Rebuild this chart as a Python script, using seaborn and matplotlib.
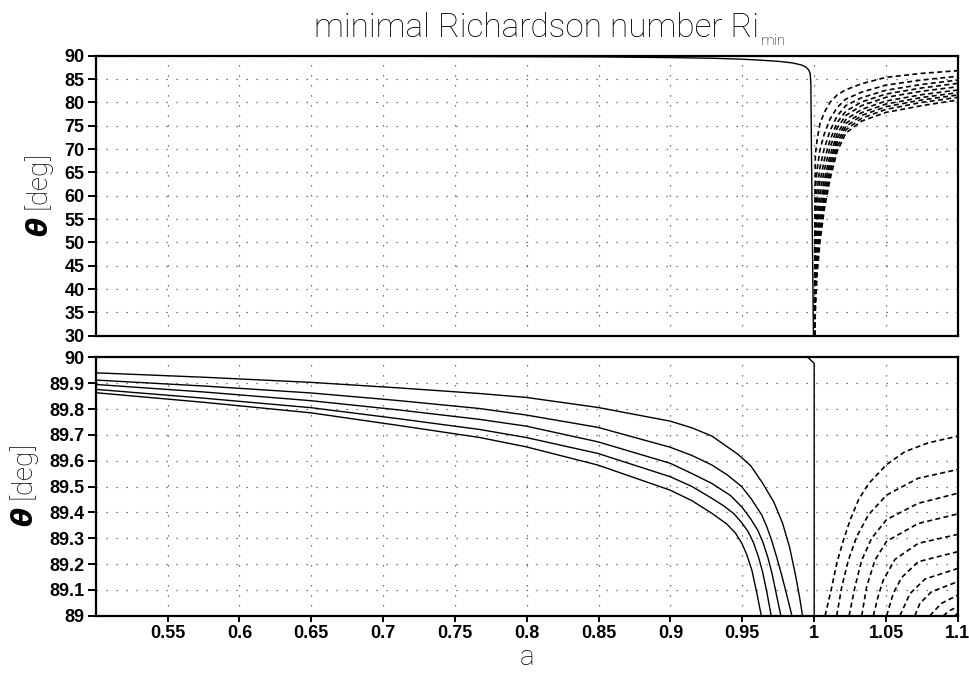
import matplotlib
matplotlib.use("Agg")
import matplotlib.pyplot as plt
import pandas as pd
import seaborn as sns

# ---------------- data ----------------
x_ticks = [0.55, 0.6, 0.65, 0.7, 0.75, 0.8, 0.85, 0.9, 0.95, 1.0, 1.05, 1.1]
x_ticklabels = ["0.55", "0.6", "0.65", "0.7", "0.75", "0.8", "0.85", "0.9", "0.95", "1", "1.05", "1.1"]
top_yticks = [30, 35, 40, 45, 50, 55, 60, 65, 70, 75, 80, 85, 90]
top_yticklabels = ["30", "35", "40", "45", "50", "55", "60", "65", "70", "75", "80", "85", "90"]
bot_yticks = [89.0, 89.1, 89.2, 89.3, 89.4, 89.5, 89.6, 89.7, 89.8, 89.9, 90.0]
bot_yticklabels = ["89", "89.1", "89.2", "89.3", "89.4", "89.5", "89.6", "89.7", "89.8", "89.9", "90"]

# top panel: one solid contour
top_solid_a = [0.5, 0.7, 0.85, 0.9, 0.93, 0.95, 0.961, 0.975, 0.985, 0.9914, 0.9945, 0.9963, 0.9972, 0.9977, 0.9981, 0.9988, 0.9995]
top_solid_theta = [89.96, 89.9, 89.75, 89.6, 89.45, 89.25, 89.08, 88.8, 88.45, 88.0, 87.5, 86.9, 86.2, 84.0, 70.0, 50.0, 30.0]

# top panel: dashed contours (a > 1)
top_dash_a = [1.0002, 1.0008, 1.002, 1.004, 1.007, 1.011, 1.016, 1.022, 1.033, 1.05, 1.075, 1.1]
top_d1 = [30, 68.8, 71.9, 75.4, 77.8, 80.0, 81.6, 82.7, 84.0, 85.36, 86.22, 86.79]
top_d2 = [30, 61.4, 65.5, 69.8, 73.2, 76.4, 78.9, 80.7, 82.2, 83.71, 84.80, 85.60]
top_d3 = [30, 56.3, 61.2, 66.0, 70.1, 73.9, 77.1, 79.3, 81.0, 82.60, 83.85, 84.79]
top_d4 = [30, 52.2, 57.7, 63.0, 67.6, 71.9, 75.7, 78.1, 80.1, 81.79, 83.10, 84.08]
top_d5 = [30, 48.9, 54.8, 60.4, 65.5, 70.3, 74.5, 77.2, 79.3, 81.08, 82.40, 83.36]
top_d6 = [30, 45.5, 52.0, 57.9, 63.4, 68.6, 73.25, 76.3, 78.5, 80.29, 81.66, 82.65]
top_d7 = [30, 42.8, 49.6, 55.8, 61.8, 67.3, 72.3, 75.5, 77.8, 79.65, 81.06, 82.08]
top_d8 = [30, 40.2, 47.5, 53.9, 60.2, 66.1, 71.4, 74.8, 77.2, 79.08, 80.53, 81.58]
top_d9 = [30, 37.7, 45.3, 52.0, 58.7, 64.8, 70.5, 74.1, 76.6, 78.51, 80.00, 81.08]
top_d10 = [30, 35.0, 43.0, 50.0, 57.0, 63.5, 69.5, 73.4, 76.0, 77.86, 79.30, 80.51]

# bottom panel: solid contours (a < 1)
sA_a = [0.5, 0.575, 0.65, 0.71, 0.7669, 0.7993, 0.8495, 0.8998, 0.915, 0.9289, 0.9469, 0.9559, 0.9639, 0.9719, 0.9779, 0.9829, 0.9869, 0.9899, 0.9919]
sA_t = [89.940, 89.923, 89.903, 89.882, 89.860, 89.845, 89.806, 89.753, 89.727, 89.695, 89.625, 89.58, 89.515, 89.44, 89.36, 89.265, 89.16, 89.07, 89.0]
sB_a = [0.5, 0.575, 0.65, 0.71, 0.7669, 0.7993, 0.8495, 0.8998, 0.915, 0.9289, 0.9395, 0.9495, 0.9565, 0.9635, 0.967, 0.9705, 0.974, 0.9775, 0.9815, 0.9845]
sB_t = [89.912, 89.889, 89.862, 89.833, 89.802, 89.777, 89.729, 89.652, 89.62, 89.583, 89.545, 89.50, 89.45, 89.39, 89.345, 89.29, 89.225, 89.155, 89.068, 89.0]
sC_a = [0.5, 0.575, 0.65, 0.71, 0.7669, 0.7993, 0.8495, 0.8998, 0.915, 0.9288, 0.9418, 0.9498, 0.9558, 0.9608, 0.9643, 0.9678, 0.9708, 0.9738, 0.9768]
sC_t = [89.895, 89.866, 89.832, 89.797, 89.760, 89.734, 89.673, 89.590, 89.55, 89.512, 89.465, 89.42, 89.375, 89.33, 89.285, 89.225, 89.16, 89.08, 89.0]
sD_a = [0.5, 0.575, 0.65, 0.71, 0.7669, 0.7993, 0.8495, 0.8998, 0.915, 0.9289, 0.9371, 0.9441, 0.9496, 0.9541, 0.9576, 0.9611, 0.9641, 0.9671, 0.9701]
sD_t = [89.876, 89.842, 89.805, 89.763, 89.721, 89.690, 89.628, 89.538, 89.50, 89.454, 89.425, 89.395, 89.36, 89.325, 89.285, 89.23, 89.17, 89.09, 89.0]
sE_a = [0.5, 0.575, 0.65, 0.71, 0.7669, 0.7993, 0.8495, 0.8998, 0.915, 0.9289, 0.9392, 0.9452, 0.9497, 0.9532, 0.9567, 0.9602, 0.9632]
sE_t = [89.863, 89.826, 89.785, 89.737, 89.690, 89.654, 89.583, 89.486, 89.445, 89.396, 89.355, 89.32, 89.28, 89.235, 89.175, 89.085, 89.0]
sF_a = [0.9956, 1.0, 1.0]
sF_t = [90.0, 89.977, 89.0]

# bottom panel: dashed contours (a > 1)
b1_a = [1.0076, 1.0123, 1.0157, 1.0204, 1.0250, 1.0308, 1.0377, 1.0504, 1.0632, 1.0794, 1.1]
b1_t = [89.000, 89.112, 89.203, 89.293, 89.370, 89.448, 89.510, 89.585, 89.635, 89.669, 89.695]
b2_a = [1.0157, 1.0192, 1.0238, 1.0296, 1.0377, 1.0504, 1.0724, 1.1]
b2_t = [89.000, 89.112, 89.215, 89.306, 89.390, 89.467, 89.532, 89.566]
b3_a = [1.0243, 1.0284, 1.0331, 1.0400, 1.0504, 1.0724, 1.1]
b3_t = [89.000, 89.112, 89.215, 89.300, 89.372, 89.435, 89.474]
b4_a = [1.0331, 1.0365, 1.0423, 1.0504, 1.0724, 1.1]
b4_t = [89.000, 89.112, 89.215, 89.288, 89.357, 89.394]
b5_a = [1.0412, 1.0445, 1.0481, 1.0562, 1.0724, 1.1]
b5_t = [89.000, 89.075, 89.138, 89.218, 89.280, 89.315]
b6_a = [1.0504, 1.0551, 1.0609, 1.0724, 1.1]
b6_t = [89.000, 89.087, 89.148, 89.209, 89.248]
b7_a = [1.0597, 1.0666, 1.0771, 1.1]
b7_t = [89.000, 89.085, 89.142, 89.183]
b8_a = [1.0701, 1.0736, 1.0817, 1.1]
b8_t = [89.000, 89.048, 89.093, 89.132]
b9_a = [1.0805, 1.0886, 1.1]
b9_t = [89.000, 89.048, 89.080]
b10_a = [1.0898, 1.0950, 1.1]
b10_t = [89.000, 89.022, 89.035]
b11_a = [1.0979, 1.1]
b11_t = [89.000, 89.010]

title_main = "minimal Richardson number Ri"
title_sub = "min"
y_label = r"$\theta$ [deg]"
x_label = "a"

# ---------------- build tables ----------------
def rows(name, kind, a, t):
    return pd.DataFrame({"curve": name, "kind": kind, "a": a, "theta": t})

top_solid_df = rows("ts", "solid", top_solid_a, top_solid_theta)
top_dash_df = pd.concat(
    [rows(f"d{i+1}", "dashed", top_dash_a, th) for i, th in enumerate(
        [top_d1, top_d2, top_d3, top_d4, top_d5, top_d6, top_d7, top_d8, top_d9, top_d10])],
    ignore_index=True)

bot_solid_df = pd.concat(
    [rows(n, "solid", a, t) for n, a, t in [
        ("A", sA_a, sA_t), ("B", sB_a, sB_t), ("C", sC_a, sC_t),
        ("D", sD_a, sD_t), ("E", sE_a, sE_t), ("F", sF_a, sF_t)]],
    ignore_index=True)
bot_dash_df = pd.concat(
    [rows(f"b{i+1}", "dashed", a, t) for i, (a, t) in enumerate([
        (b1_a, b1_t), (b2_a, b2_t), (b3_a, b3_t), (b4_a, b4_t), (b5_a, b5_t),
        (b6_a, b6_t), (b7_a, b7_t), (b8_a, b8_t), (b9_a, b9_t), (b10_a, b10_t),
        (b11_a, b11_t)])],
    ignore_index=True)

# ---------------- style ----------------
sns.set_style("white")
plt.rcParams["font.family"] = ["Liberation Sans", "DejaVu Sans"]
plt.rcParams["mathtext.fontset"] = "custom"
plt.rcParams["mathtext.it"] = "DejaVu Sans:italic:bold"
plt.rcParams["mathtext.rm"] = "DejaVu Sans"
for k in ["text.color", "axes.labelcolor", "xtick.color", "ytick.color", "axes.edgecolor"]:
    plt.rcParams[k] = "black"

fig = plt.figure(figsize=(9.69, 6.77), dpi=100)
ax1 = fig.add_axes([0.0988, 0.5041, 0.8897, 0.4136])
ax2 = fig.add_axes([0.0988, 0.0905, 0.8897, 0.3817])

for ax, sdf, ddf in [(ax1, top_solid_df, top_dash_df), (ax2, bot_solid_df, bot_dash_df)]:
    sns.lineplot(data=sdf, x="a", y="theta", units="curve", estimator=None,
                 sort=False, style="kind", dashes={"solid": ""}, color="black",
                 linewidth=1.0, legend=False, ax=ax)
    sns.lineplot(data=ddf, x="a", y="theta", units="curve", estimator=None,
                 sort=False, style="kind", dashes={"dashed": (3.0, 2.0)}, color="black",
                 linewidth=1.2, legend=False, ax=ax)

thin = {"family": ["Roboto", "DejaVu Sans"], "weight": "light", "color": "black"}

for ax, yt, ytl, ylim in [(ax1, top_yticks, top_yticklabels, (30, 90)),
                          (ax2, bot_yticks, bot_yticklabels, (89, 90))]:
    ax.set_xlim(0.5, 1.1)
    ax.set_ylim(*ylim)
    ax.set_xticks(x_ticks)
    ax.set_yticks(yt)
    ax.set_yticklabels(ytl, fontsize=13, fontweight="bold")
    ax.grid(True, linestyle=(0, (1.0, 7.0)), color="0.3", linewidth=0.9)
    for s in ax.spines.values():
        s.set_linewidth(1.6)
        s.set_color("black")
    ax.tick_params(axis="y", direction="out", length=6, width=1.4, pad=2,
                   left=True, colors="black")
    ax.set_ylabel(y_label, fontsize=20, labelpad=6, **thin)

ax1.tick_params(axis="x", length=0, labelbottom=False)
ax1.set_xlabel("")
ax2.set_xticklabels(x_ticklabels, fontsize=13, fontweight="bold")
ax2.tick_params(axis="x", direction="out", length=4, width=1.4, pad=3,
                bottom=True, colors="black")
ax2.set_xlabel(x_label, fontsize=20, labelpad=1, **thin)

# title with small subscript
W, H = fig.get_size_inches() * fig.dpi
t_main = fig.text(0.5, 0.958, title_main, ha="left", va="center", fontsize=24, **thin)
t_sub = fig.text(0.5, 0.94, title_sub, ha="left", va="center", fontsize=11, **thin)
fig.canvas.draw()
r = fig.canvas.get_renderer()
wm = t_main.get_window_extent(r).width
ws = t_sub.get_window_extent(r).width
x0 = 550.0 - (wm + 2 + ws) / 2.0
t_main.set_x(x0 / W)
t_sub.set_x((x0 + wm + 2) / W)

fig.savefig("out.png", dpi=100)
